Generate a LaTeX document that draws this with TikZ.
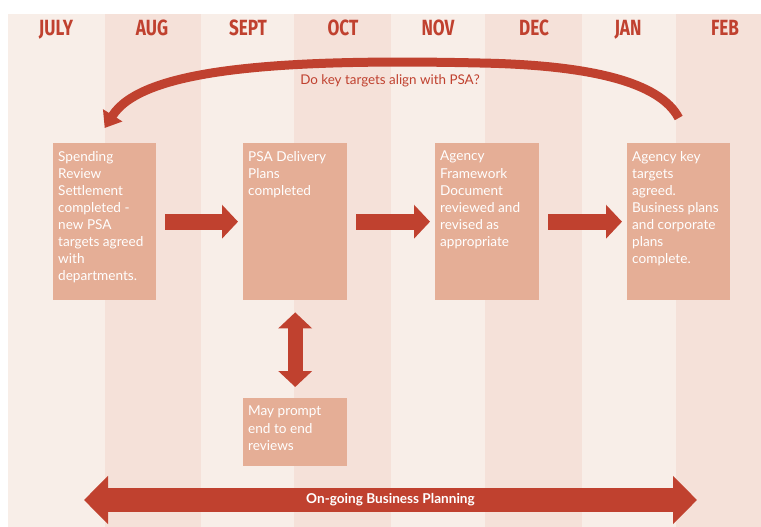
\documentclass[tikz,border=0pt]{standalone}
\usepackage{fontspec}
\setmainfont{Lato}
\newfontfamily\monthfont{Fira Sans}[FakeStretch=0.78]
\usetikzlibrary{arrows.meta}
\definecolor{bandlt}{HTML}{F8EEE8}
\definecolor{banddk}{HTML}{F5E1D9}
\definecolor{stagefill}{HTML}{E5AE96}
\definecolor{flowred}{HTML}{C0412F}

\begin{document}
\begin{tikzpicture}[x=1pt, y=-1pt,
  stage/.style={fill=stagefill, anchor=north west, inner xsep=5pt, inner ysep=8pt,
                text=white, font=\fontsize{13.6}{17.1}\selectfont},
  month/.style={anchor=base, text=flowred, font=\monthfont\bfseries\fontsize{22}{22}\selectfont},
  fat/.style={draw=flowred, line width=16pt, -{Triangle[width=33pt,length=16pt]}},
  fatboth/.style={draw=flowred, line width=15pt,
                  {Triangle[width=33pt,length=16pt]}-{Triangle[width=33pt,length=16pt]}},
  planbar/.style={draw=flowred, line width=24pt,
                  {Triangle[width=47pt,length=24pt]}-{Triangle[width=47pt,length=24pt]}},
  loop/.style={draw=flowred, line width=9pt, -{Triangle[width=22pt,length=15pt]}},
]
\useasboundingbox (0,0) rectangle (761,527);
% month columns, alternating shades
\foreach \a/\b/\lx/\m [count=\i] in {8/105/56/JULY, 105/201/152/AUG, 201/294/248/SEPT,
    294/391/343/OCT, 391/485/438/NOV, 485/582/534/DEC, 582/676/628/JAN, 676/761/725/FEB} {
  \ifodd\i \def\bandcol{bandlt}\else \def\bandcol{banddk}\fi
  \fill[\bandcol] (\a,14) rectangle (\b,527);
  \node[month] (m\i) at (\lx,36) {\m};
}

% planning stages
\node[stage] (srs) at (53,143) {\parbox[t][141pt][t]{93pt}{\raggedright
  Spending\\Review\\Settlement\\completed -\\new PSA\\targets agreed\\with\\departments.}};
\node[stage] (psa) at (243,143) {\parbox[t][141pt][t]{94pt}{\raggedright
  PSA Delivery\\Plans\\completed}};
\node[stage] (afd) at (435,143) {\parbox[t][141pt][t]{94pt}{\raggedright
  Agency\\Framework\\Document\\reviewed and\\revised as\\appropriate}};
\node[stage] (akt) at (627,143) {\parbox[t][141pt][t]{93pt}{\raggedright
  Agency key\\targets\\agreed.\\Business plans\\and corporate\\plans\\complete.}};
\node[stage] (prompt) at (243,398) {\parbox[t][52pt][t]{94pt}{\raggedright
  May prompt\\end to end\\reviews}};

% forward flow
\draw[fat, shorten <=9pt, shorten >=5pt] (srs) -- (psa);
\draw[fat, shorten <=9pt, shorten >=5pt] (psa) -- (afd);
\draw[fat, shorten <=9pt, shorten >=5pt] (afd) -- (akt);
\draw[fatboth, shorten <=12pt, shorten >=11pt] (psa) -- (prompt);

% feedback loop back to July
\coordinate (loopstart) at ([yshift=25pt]akt.north);
\coordinate (looptop) at (480,63);
\coordinate (loopend) at ([yshift=15pt]srs.north);
\draw[loop] (loopstart) .. controls (660,82) and (590,65) .. (looptop)
  .. controls (260,58) and (140,72) .. (loopend);
\node[text=flowred, font=\fontsize{13.4}{15}\selectfont] (question) at (390,81)
  {Do key targets align with PSA?};

% ongoing planning bar
\coordinate (planstart) at (84,500);
\coordinate (planend) at (697,500);
\draw[planbar] (planstart) -- node[text=white, font=\bfseries\fontsize{13.6}{15}\selectfont] (ongoing)
  {On-going Business Planning} (planend);
\end{tikzpicture}
\end{document}
